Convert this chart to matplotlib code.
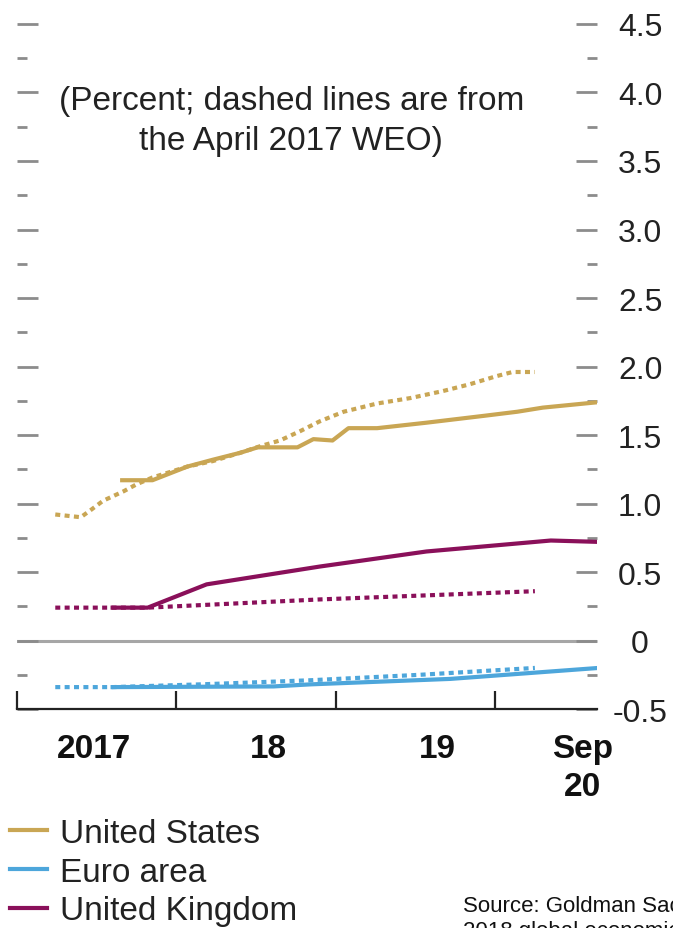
import matplotlib
matplotlib.use("Agg")
import matplotlib.pyplot as plt
from matplotlib.lines import Line2D

plt.rcParams['font.family'] = ['Liberation Sans', 'DejaVu Sans']

# decimal years / percent
us_t = [2017.66, 2017.85, 2018.07, 2018.23, 2018.40, 2018.51, 2018.76, 2018.86,
        2018.98, 2019.08, 2019.26, 2019.57, 2019.93, 2020.14, 2020.30, 2020.65]
us_v = [1.17, 1.17, 1.27, 1.32, 1.37, 1.41, 1.41, 1.47,
        1.46, 1.55, 1.55, 1.59, 1.64, 1.67, 1.70, 1.74]
us_weo_t = [2017.24, 2017.40, 2017.46, 2017.54, 2017.67, 2017.75, 2017.85, 2018.07,
            2018.23, 2018.40, 2018.53, 2018.65, 2018.78, 2018.90, 2019.05, 2019.26,
            2019.47, 2019.67, 2019.84, 2020.01, 2020.11, 2020.25]
us_weo_v = [0.92, 0.90, 0.95, 1.02, 1.09, 1.14, 1.19, 1.27,
            1.31, 1.37, 1.42, 1.46, 1.53, 1.60, 1.67, 1.73,
            1.77, 1.82, 1.87, 1.93, 1.96, 1.96]

ea_t = [2017.60, 2018.61, 2018.84, 2019.72, 2020.65]
ea_v = [-0.34, -0.335, -0.32, -0.28, -0.20]
ea_weo_t = [2017.24, 2017.60, 2018.15, 2018.84, 2019.53, 2020.25]
ea_weo_v = [-0.34, -0.34, -0.32, -0.29, -0.25, -0.20]

uk_t = [2017.60, 2017.82, 2018.19, 2018.90, 2019.57, 2020.35, 2020.65]
uk_v = [0.24, 0.24, 0.41, 0.54, 0.65, 0.73, 0.72]
uk_weo_t = [2017.24, 2017.82, 2018.90, 2020.25]
uk_weo_v = [0.24, 0.24, 0.30, 0.36]

year_pos = [2017.48, 2018.58, 2019.64, 2020.55]
year_labels = ["2017", "18", "19", "Sep\n20"]
y_ticks = [-0.5, 0, 0.5, 1.0, 1.5, 2.0, 2.5, 3.0, 3.5, 4.0, 4.5]
y_labels = ["-0.5", "0", "0.5", "1.0", "1.5", "2.0", "2.5", "3.0", "3.5", "4.0", "4.5"]
y_minor = [-0.25, 0.25, 0.75, 1.25, 1.75, 2.25, 2.75, 3.25, 3.75, 4.25]

GOLD = "#C9A654"
BLUE = "#4DA6DB"
MAROON = "#8A105A"
DOT = (0, (1.2, 1.05))

fig = plt.figure(figsize=(6.73, 9.29), dpi=100)
ax = fig.add_axes([0.0253, 0.2357, 0.8618, 0.7374])

ax.axhline(0, color="#a6a6a6", lw=2.2, zorder=1)

ax.plot(ea_weo_t, ea_weo_v, color=BLUE, lw=3, linestyle=DOT, dash_capstyle="butt")
ax.plot(ea_t, ea_v, color=BLUE, lw=3)
ax.plot(uk_weo_t, uk_weo_v, color=MAROON, lw=3, linestyle=DOT, dash_capstyle="butt")
ax.plot(uk_t, uk_v, color=MAROON, lw=3)
ax.plot(us_weo_t, us_weo_v, color=GOLD, lw=3, linestyle=DOT, dash_capstyle="butt")
ax.plot(us_t, us_v, color=GOLD, lw=3)

ax.set_xlim(2017.0, 2020.64)
ax.set_ylim(-0.5, 4.5)

for s in ["left", "right", "top"]:
    ax.spines[s].set_visible(False)
ax.spines["bottom"].set_color("#222222")
ax.spines["bottom"].set_linewidth(1.6)

ax.set_xticks([2017, 2018, 2019, 2020])
ax.set_xticklabels([])
ax.tick_params(axis="x", which="major", direction="in", length=13, width=1.6, color="#222222")
ax.set_xticks(year_pos, year_labels, minor=True)
ax.tick_params(axis="x", which="minor", length=0, pad=17, labelsize=24, labelcolor="#111111")
for lab in ax.get_xticklabels(minor=True):
    lab.set_fontweight("bold")
    lab.set_linespacing(1.3)

ax.set_yticks(y_ticks, y_labels)
ax.set_yticks(y_minor, minor=True)
ax.tick_params(axis="y", which="both", left=True, right=True, labelleft=False, labelright=True,
               direction="in", color="#8c8c8c", width=2)
ax.tick_params(axis="y", which="major", length=15, pad=31, labelsize=23, labelcolor="#222222")
ax.tick_params(axis="y", which="minor", length=7.5)
for lab in ax.get_yticklabels():
    lab.set_horizontalalignment("center")

fig.text(0.433, 0.869, "(Percent; dashed lines are from\nthe April 2017 WEO)", ha="center", va="center",
         fontsize=24, color="#222222", linespacing=1.4)

handles = [Line2D([], [], color=GOLD, lw=3),
           Line2D([], [], color=BLUE, lw=3),
           Line2D([], [], color=MAROON, lw=3)]
fig.legend(handles, ["United States", "Euro area", "United Kingdom"], loc="upper left",
           bbox_to_anchor=(0.015, 0.1185), frameon=False, fontsize=24, handlelength=1.1,
           handletextpad=0.4, labelspacing=0.23, borderaxespad=0, borderpad=0,
           labelcolor="#222222")

fig.text(0.688, 0.0183, "Source: Goldman Sachs", fontsize=16, color="#111111", va="baseline")
fig.text(0.688, -0.0086, "2018 global economic outlook", fontsize=16, color="#111111", va="baseline")

fig.savefig("out.png", dpi=100)
